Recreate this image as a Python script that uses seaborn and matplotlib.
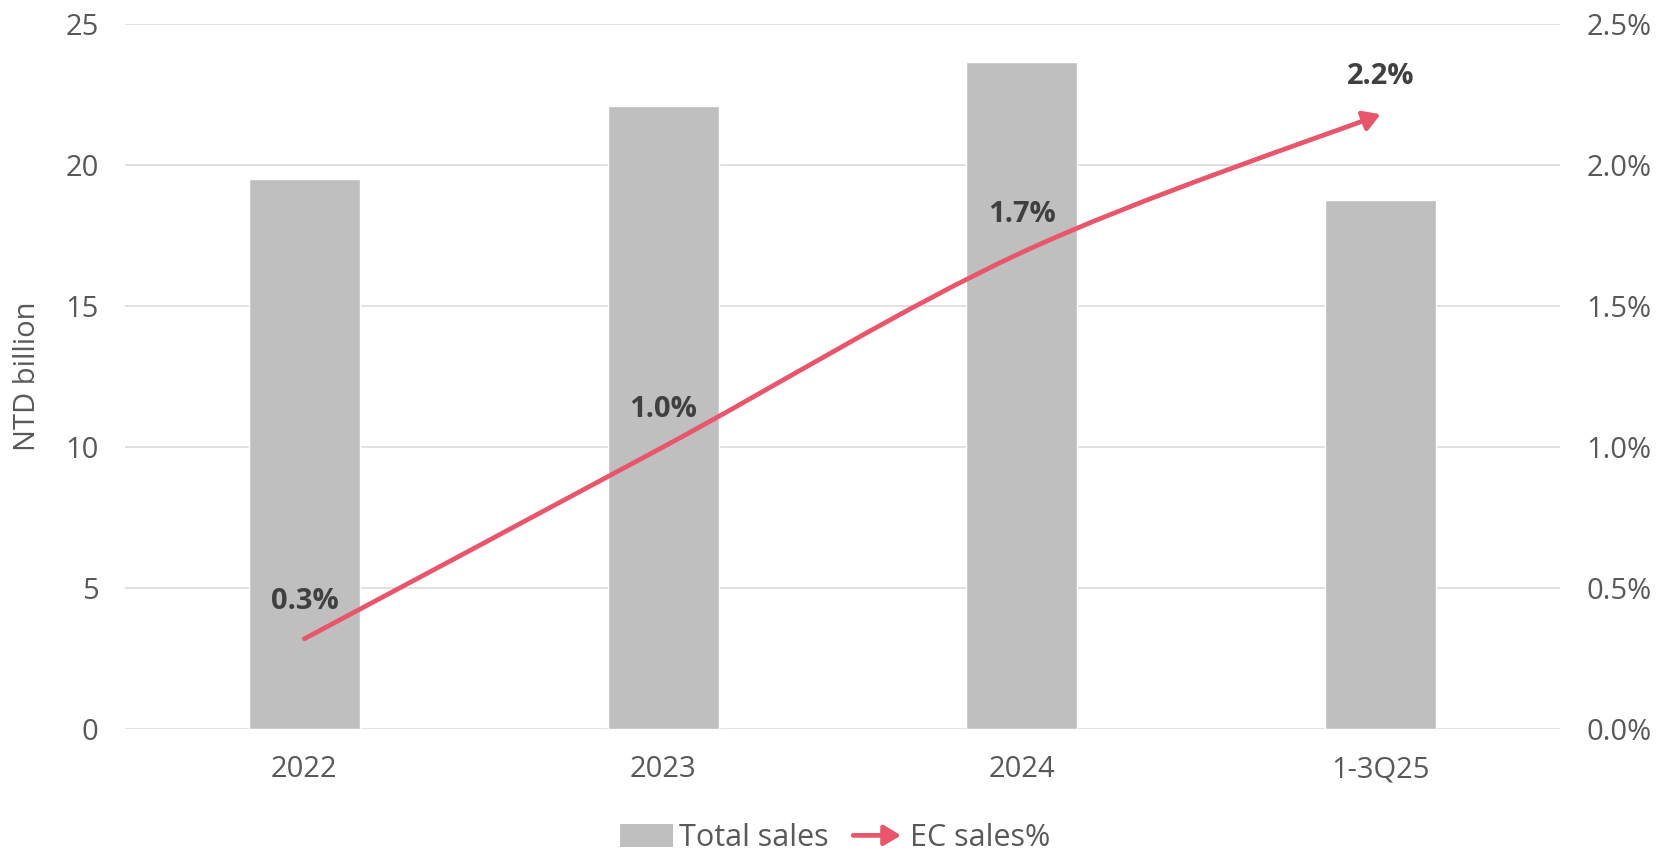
import matplotlib
matplotlib.use("Agg")
import matplotlib.pyplot as plt
import seaborn as sns
import numpy as np
from matplotlib.path import Path
from matplotlib.patches import FancyArrowPatch, Patch
from matplotlib.legend_handler import HandlerPatch
from matplotlib.ticker import FuncFormatter, MultipleLocator

# ---- data ----
categories = ["2022", "2023", "2024", "1-3Q25"]
total_sales = [19.5, 22.1, 23.65, 18.75]      # NTD billion
ec_share = [0.32, 1.00, 1.69, 2.18]           # %

BAR_C = "#BFBFBF"
LINE_C = "#E8566B"
TXT_C = "#595959"
LBL_C = "#404040"
GRID_C = "#D9D9D9"

sns.set_theme(style="white")
plt.rcParams["font.family"] = ["Open Sans", "DejaVu Sans"]

fig = plt.figure(figsize=(16.6, 8.57), dpi=100)
ax = fig.add_axes([125/1660, 1-729/857, (1560-125)/1660, (729-24)/857])

sns.barplot(x=categories, y=total_sales, color=BAR_C, saturation=1,
            width=0.31, ax=ax, zorder=2)
ax.set_xlim(-0.5, 3.5)
ax.set_ylim(0, 25)
ax.yaxis.set_major_locator(MultipleLocator(5))
ax.grid(axis="y", color=GRID_C, linewidth=1.1, zorder=0)
ax.set_axisbelow(True)
for s in ax.spines.values():
    s.set_visible(False)
ax.tick_params(axis="both", length=0, labelsize=21, colors=TXT_C)
ax.tick_params(axis="x", pad=19)
ax.tick_params(axis="y", pad=19)
ax.set_xlabel("")
ax.set_ylabel("NTD billion", fontsize=21, color=TXT_C)
ax.yaxis.set_label_coords(-0.058, 0.5)

ax2 = ax.twinx()
ax2.set_ylim(0, 2.5)
ax2.yaxis.set_major_locator(MultipleLocator(0.5))
ax2.yaxis.set_major_formatter(FuncFormatter(lambda v, p: f"{v:.1f}%"))
for s in ax2.spines.values():
    s.set_visible(False)
ax2.tick_params(axis="y", length=0, labelsize=21, colors=TXT_C, pad=19)
ax2.grid(False)

ARROW_STYLE = "-|>,head_length=0.5,head_width=0.3"

# smoothed line (Catmull-Rom bezier through the data points)
xs = np.arange(len(categories), dtype=float)
pts = np.column_stack([xs, ec_share])
ext = np.vstack([pts[0], pts, pts[-1]])
verts = [tuple(pts[0])]
codes = [Path.MOVETO]
for i in range(len(pts) - 1):
    p0, p1, p2, p3 = ext[i], ext[i+1], ext[i+2], ext[i+3]
    c1 = p1 + (p2 - p0) / 6
    c2 = p2 - (p3 - p1) / 6
    verts += [tuple(c1), tuple(c2), tuple(p2)]
    codes += [Path.CURVE4] * 3
curve = Path(verts, codes)
arrow = FancyArrowPatch(path=curve, arrowstyle=ARROW_STYLE,
                        mutation_scale=20, color=LINE_C, linewidth=3.4,
                        transform=ax2.transData, zorder=5, capstyle="round",
                        joinstyle="round")
ax2.add_patch(arrow)

for x, v in zip(xs, ec_share):
    ax2.annotate(f"{v:.1f}%", xy=(x, v), xytext=(0, 27), textcoords="offset points",
                 ha="center", va="center", fontsize=21, fontweight="bold",
                 color=LBL_C, zorder=6)

# legend
def make_arrow(legend, orig_handle, xdescent, ydescent, width, height, fontsize):
    return FancyArrowPatch((-xdescent, height/2 - ydescent), (width - xdescent, height/2 - ydescent),
                           arrowstyle=ARROW_STYLE, mutation_scale=20,
                           color=LINE_C, linewidth=3.4)

h_bar = Patch(facecolor=BAR_C, edgecolor="none", label="Total sales")
h_line = FancyArrowPatch((0, 0), (1, 0), color=LINE_C, linewidth=3.4, label="EC sales%")
leg = fig.legend(handles=[h_bar, h_line], labels=["Total sales", "EC sales%"],
                 loc="center", bbox_to_anchor=(0.503, 1-838/857), ncol=2, frameon=False,
                 fontsize=22, handlelength=1.75, handleheight=0.8, handletextpad=0.2,
                 columnspacing=0.7, borderpad=0.1,
                 handler_map={FancyArrowPatch: HandlerPatch(patch_func=make_arrow)})
for t in leg.get_texts():
    t.set_color(TXT_C)

fig.savefig("out.png", dpi=100)
